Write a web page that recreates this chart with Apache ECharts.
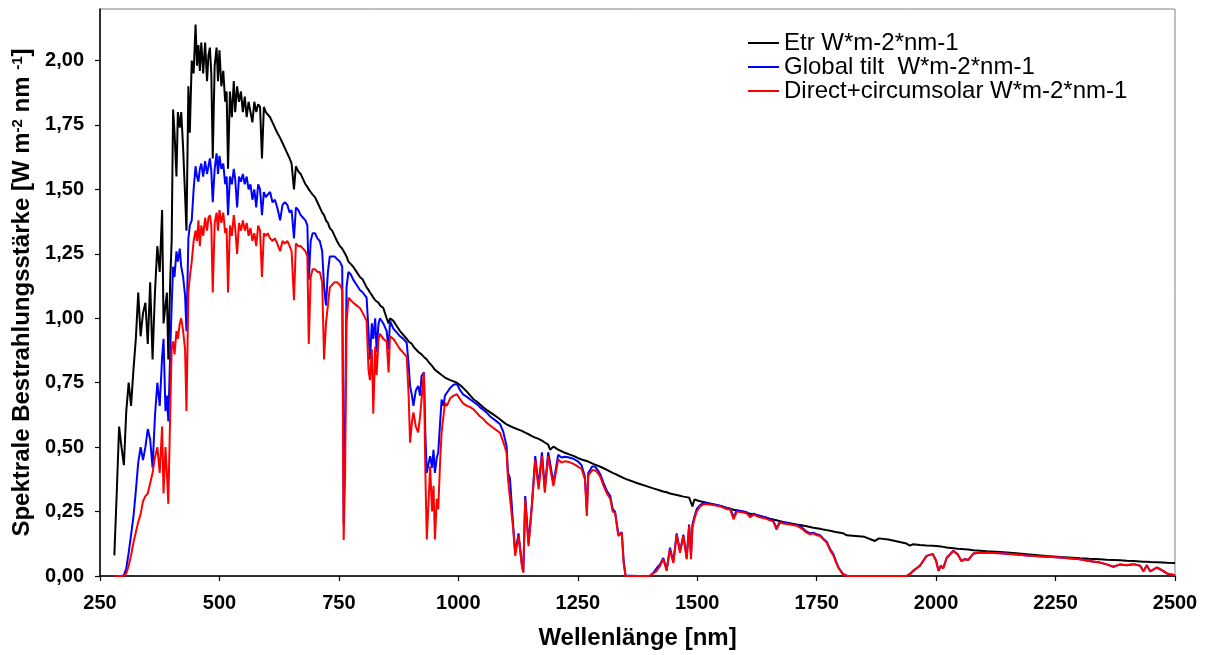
<!DOCTYPE html>
<html>
<head>
<meta charset="utf-8">
<script src="https://cdn.jsdelivr.net/npm/echarts@6/dist/echarts.min.js"></script>
<style>
html,body{margin:0;padding:0;background:#fff;}
#chart{width:1212px;height:655px;}
</style>
</head>
<body>
<div id="chart"></div>
<script>
// ---- data (wavelength nm, spectral irradiance W m-2 nm-1) ----
const wlUV   = [280,285,290,295,300,305,310,315,320,325,330,335,340,345,350,355,360,365,370,375,380,383,387,390,393,397,400];
const etrUV  = [0.08,0.32,0.58,0.50,0.43,0.64,0.75,0.66,0.80,0.92,1.10,0.93,1.02,1.06,0.90,1.14,0.84,1.10,1.28,1.18,1.42,0.98,1.05,1.10,0.84,1.15,1.30];
const globUV = [0,0,0,0,0.003,0.03,0.09,0.16,0.23,0.33,0.44,0.50,0.45,0.50,0.57,0.53,0.42,0.62,0.75,0.66,0.85,0.92,0.64,0.70,0.60,0.87,1.05];
const dirUV  = [0,0,0,0,0,0.01,0.04,0.08,0.13,0.17,0.21,0.24,0.29,0.31,0.32,0.36,0.40,0.46,0.50,0.40,0.58,0.32,0.50,0.40,0.28,0.64,0.88];

const wlVIS = [403,406,410,413,417,420,424,428,431,435,
  438,442,446,450,453,456,459,462,466,470,
  474,477,480,483,486,490,494,497,500,504,
  508,512,515,518,522,526,530,533,537,541,
  545,549,553,557,561,565,569,573,577,581,
  585,589,593,597,601,606,611,616,621,627,
  632,637,642,647,651,656,660,665,670,675,
  680,684,687,691,695,700];
const etrVIS = [1.81,1.72,1.55,1.80,1.74,1.80,1.66,1.48,1.34,1.90,
  1.72,2.00,1.95,2.14,1.98,2.06,1.96,2.07,1.95,2.07,
  1.92,2.02,2.05,1.95,1.62,1.98,2.05,1.92,2.04,1.90,
  1.96,1.84,1.88,1.58,1.88,1.78,1.92,1.80,1.90,1.84,
  1.88,1.80,1.86,1.78,1.84,1.80,1.76,1.84,1.80,1.83,
  1.82,1.62,1.82,1.80,1.80,1.78,1.76,1.74,1.72,1.70,
  1.68,1.66,1.64,1.62,1.60,1.50,1.59,1.57,1.56,1.54,
  1.52,1.51,1.50,1.49,1.48,1.47];
const globVIS = [1.20,1.16,1.26,1.22,1.27,1.20,1.16,1.09,0.95,1.31,
  1.36,1.38,1.50,1.59,1.55,1.53,1.58,1.60,1.55,1.61,
  1.56,1.59,1.62,1.57,1.45,1.58,1.64,1.56,1.63,1.58,
  1.60,1.52,1.55,1.40,1.55,1.52,1.58,1.54,1.43,1.55,
  1.53,1.56,1.52,1.55,1.50,1.52,1.46,1.50,1.43,1.52,
  1.50,1.40,1.49,1.47,1.48,1.49,1.45,1.46,1.43,1.38,
  1.44,1.45,1.44,1.41,1.42,1.31,1.43,1.42,1.40,1.39,
  1.38,1.36,1.15,1.30,1.33,1.33];
const dirVIS = [0.91,0.86,0.95,0.92,0.98,1.00,0.95,0.88,0.64,1.10,
  1.16,1.22,1.30,1.34,1.30,1.38,1.28,1.36,1.32,1.39,
  1.34,1.39,1.40,1.36,1.10,1.37,1.41,1.34,1.42,1.37,
  1.41,1.33,1.35,1.10,1.36,1.32,1.40,1.35,1.25,1.37,
  1.34,1.38,1.34,1.37,1.32,1.35,1.30,1.33,1.28,1.36,
  1.34,1.16,1.33,1.32,1.33,1.31,1.30,1.31,1.29,1.26,
  1.30,1.29,1.30,1.28,1.26,1.07,1.29,1.28,1.28,1.27,
  1.26,1.24,0.90,1.16,1.19,1.19];

const wlNIR = [705,710,715,719,723,727,731,736,741,746,
  752,757,760,763,766,770,775,780,787,794,
  800,808,812,815,819,822,826,829,833,836,
  843,850,854,857,864,871,878,885,892,896,
  899,903,906,911,916,920,923,928,931,934,
  938,941,945,948,951,955,958,962,965,969,
  972,976,983,990,997,1004,1010,1018,1025,1032,
  1040,1045,1052,1059,1066,1073,1080,1087,1094,1101];
const etrNIR = [1.45,1.43,1.41,1.40,1.38,1.37,1.35,1.34,1.32,1.30,
  1.28,1.27,1.26,1.25,1.24,1.22,1.21,1.20,1.18,1.16,
  1.15,1.12,1.11,1.10,1.09,1.08,1.07,1.07,1.06,1.05,
  1.04,1.00,0.98,1.00,0.99,0.97,0.95,0.935,0.92,0.91,
  0.905,0.90,0.89,0.88,0.87,0.865,0.86,0.85,0.845,0.84,
  0.83,0.825,0.815,0.81,0.80,0.795,0.79,0.785,0.78,0.775,
  0.77,0.765,0.76,0.755,0.75,0.74,0.73,0.715,0.70,0.685,
  0.675,0.666,0.655,0.645,0.636,0.627,0.618,0.608,0.598,0.588];
const globNIR = [1.31,1.30,1.26,1.12,1.05,1.18,1.24,1.24,1.24,1.23,
  1.22,1.20,0.20,0.60,1.12,1.18,1.17,1.15,1.13,1.11,
  1.10,1.08,0.95,0.84,0.98,0.92,1.00,0.87,0.98,1.00,
  0.98,0.95,0.88,0.99,0.96,0.945,0.93,0.92,0.905,0.82,
  0.737,0.70,0.66,0.72,0.737,0.70,0.776,0.79,0.55,0.40,
  0.44,0.465,0.42,0.49,0.40,0.46,0.48,0.60,0.685,0.66,
  0.70,0.711,0.73,0.742,0.745,0.72,0.705,0.695,0.685,0.675,
  0.665,0.655,0.645,0.635,0.62,0.61,0.60,0.59,0.56,0.504];
const dirNIR = [1.18,1.18,1.14,0.84,0.98,1.05,1.12,1.13,1.14,1.14,
  1.13,1.11,0.14,0.40,0.98,1.08,1.07,1.06,1.05,1.04,
  1.02,0.99,0.80,0.76,0.88,0.63,0.89,0.78,0.92,0.94,
  0.92,0.91,0.79,0.93,0.92,0.90,0.88,0.866,0.85,0.70,
  0.517,0.60,0.635,0.58,0.557,0.62,0.685,0.79,0.40,0.142,
  0.30,0.426,0.25,0.35,0.142,0.30,0.259,0.45,0.557,0.55,
  0.672,0.66,0.69,0.70,0.705,0.685,0.67,0.66,0.655,0.646,
  0.63,0.62,0.61,0.595,0.585,0.575,0.565,0.556,0.52,0.478];

const wlIR = [1104,1108,1115,1119,1126,1133,1136,1140,1147,1154,
  1161,1168,1175,1181,1188,1192,1199,1209,1216,1223,
  1232,1241,1250,1258,1265,1269,1272,1280,1286,1292,
  1297,1304,1311,1318,1323,1328,1335,1342,1346,1350,
  1375,1400,1408,1415,1422,1429,1436,1443,1450,1457,
  1464,1471,1478,1483,1487,1490,1494,1499];
const etrIR = [0.585,0.582,0.576,0.573,0.568,0.563,0.56,0.556,0.55,0.543,
  0.537,0.532,0.525,0.518,0.51,0.49,0.502,0.49,0.484,0.478,
  0.472,0.466,0.458,0.452,0.448,0.446,0.444,0.437,0.432,0.428,
  0.424,0.418,0.412,0.405,0.40,0.396,0.39,0.384,0.38,0.377,
  0.36,0.345,0.34,0.336,0.332,0.328,0.325,0.32,0.317,0.314,
  0.311,0.308,0.306,0.304,0.30,0.27,0.297,0.294];
const globIR = [0.40,0.38,0.19,0.09,0.165,0.045,0.015,0.31,0.125,0.28,
  0.465,0.35,0.48,0.34,0.48,0.44,0.36,0.47,0.46,0.463,
  0.46,0.455,0.445,0.43,0.385,0.25,0.40,0.425,0.425,0.41,
  0.395,0.36,0.33,0.31,0.26,0.25,0.16,0.17,0.06,0.002,
  0,0,0.012,0.03,0.045,0.07,0.025,0.11,0.055,0.165,
  0.095,0.16,0.07,0.20,0.08,0.20,0.23,0.26];
const dirIR = [0.375,0.37,0.18,0.078,0.155,0.039,0.013,0.297,0.116,0.27,
  0.45,0.336,0.465,0.323,0.465,0.42,0.349,0.452,0.44,0.445,
  0.442,0.435,0.425,0.415,0.375,0.233,0.39,0.41,0.41,0.40,
  0.385,0.35,0.32,0.30,0.25,0.246,0.155,0.168,0.05,0,
  0,0,0.01,0.02,0.039,0.065,0.02,0.103,0.05,0.16,
  0.09,0.155,0.065,0.194,0.065,0.188,0.22,0.25];

const wlSW = [1506,1513,1520,1534,1548,1562,1569,1576,1583,1597,
  1604,1611,1618,1631,1645,1652,1659,1666,1673,1680,
  1694,1708,1718,1729,1736,1743,1750,1757,1764,1771,
  1778,1785,1790,1796,1805,1813,1850,1872,1880,1900,
  1938,1945,1952,1966,1980,1993,2000,2005,2010,2015,
  2022,2036,2045,2053,2060,2067,2078,2092,2106,2134,
  2162,2190,2231,2260,2301,2320,2343,2357,2371,2385,
  2399,2413,2427,2434,2441,2448,2462,2475,2483,2500];
const etrSW = [0.29,0.287,0.284,0.278,0.272,0.264,0.26,0.257,0.254,0.248,
  0.245,0.242,0.239,0.233,0.226,0.222,0.219,0.216,0.213,0.21,
  0.205,0.20,0.197,0.193,0.19,0.187,0.185,0.183,0.18,0.178,
  0.176,0.173,0.171,0.169,0.166,0.158,0.152,0.136,0.146,0.142,
  0.126,0.118,0.123,0.12,0.118,0.117,0.116,0.115,0.114,0.113,
  0.111,0.108,0.106,0.105,0.104,0.103,0.10,0.098,0.096,0.093,
  0.089,0.084,0.078,0.074,0.069,0.067,0.065,0.063,0.062,0.061,
  0.059,0.058,0.056,0.055,0.055,0.054,0.053,0.052,0.051,0.05];
const globSW = [0.275,0.283,0.282,0.278,0.273,0.264,0.262,0.228,0.255,0.25,
  0.247,0.232,0.242,0.233,0.226,0.22,0.216,0.185,0.212,0.208,
  0.203,0.198,0.19,0.172,0.166,0.168,0.162,0.158,0.145,0.133,
  0.105,0.085,0.06,0.032,0.008,0.001,0,0,0,0,
  0,0.008,0.02,0.04,0.078,0.086,0.06,0.02,0.04,0.03,
  0.07,0.098,0.085,0.058,0.066,0.062,0.087,0.09,0.09,0.088,
  0.084,0.08,0.075,0.072,0.065,0.058,0.052,0.045,0.036,0.045,
  0.042,0.046,0.04,0.018,0.042,0.018,0.033,0.02,0.01,0.003];
const dirSW = [0.27,0.278,0.278,0.275,0.27,0.26,0.258,0.22,0.25,0.246,
  0.242,0.228,0.238,0.228,0.222,0.216,0.212,0.18,0.208,0.204,
  0.2,0.195,0.185,0.168,0.162,0.165,0.158,0.155,0.142,0.13,
  0.10,0.08,0.055,0.03,0.006,0,0,0,0,0,
  0,0.006,0.02,0.039,0.078,0.084,0.058,0.02,0.038,0.03,
  0.07,0.097,0.083,0.058,0.065,0.062,0.087,0.09,0.09,0.088,
  0.084,0.08,0.075,0.072,0.065,0.058,0.052,0.045,0.036,0.045,
  0.042,0.046,0.04,0.018,0.042,0.018,0.033,0.02,0.01,0.003];

const seriesNames = ['Etr W*m-2*nm-1', 'Global tilt  W*m-2*nm-1', 'Direct+circumsolar W*m-2*nm-1'];
const seriesColors = ['#000000', '#0000ff', '#ff0000'];
const yTicks = [0, 0.25, 0.5, 0.75, 1.0, 1.25, 1.5, 1.75, 2.0];

// ---- build ----
const wl = [].concat(wlUV, wlVIS, wlNIR, wlIR, wlSW);
const etr = [].concat(etrUV, etrVIS, etrNIR, etrIR, etrSW);
const glob = [].concat(globUV, globVIS, globNIR, globIR, globSW);
const dir = [].concat(dirUV, dirVIS, dirNIR, dirIR, dirSW);
function pairs(vals) { return wl.map((w, i) => [w, vals[i]]); }

const FONT = "'Liberation Sans', Arial, sans-serif";
const chart = echarts.init(document.getElementById('chart'), null, {renderer: 'canvas'});
chart.setOption({
  animation: false,
  backgroundColor: '#ffffff',
  color: seriesColors,
  textStyle: {fontFamily: FONT},
  grid: {left: 100, right: 37, top: 9, bottom: 78, show: true, borderColor: '#808080', borderWidth: 1, backgroundColor: 'transparent'},
  legend: {
    orient: 'vertical', left: 748, top: 31, padding: 0,
    itemWidth: 31, itemHeight: 2, itemGap: 0, icon: 'rect', selectedMode: false,
    textStyle: {fontSize: 24, lineHeight: 22, color: '#000', fontFamily: FONT},
    data: seriesNames
  },
  xAxis: {
    type: 'value', min: 250, max: 2500, interval: 250,
    axisLine: {show: true, onZero: false, lineStyle: {color: '#000', width: 1.5}},
    axisTick: {show: true, inside: false, length: 5, lineStyle: {color: '#000', width: 1.2}},
    axisLabel: {fontSize: 20, fontWeight: 'bold', color: '#000', margin: 17, fontFamily: FONT,
      formatter: v => String(Math.round(v))},
    splitLine: {show: false},
    name: 'Wellenlänge [nm]', nameLocation: 'middle', nameGap: 50,
    nameTextStyle: {fontSize: 24, fontWeight: 'bold', color: '#000', fontFamily: FONT}
  },
  yAxis: {
    type: 'value', min: 0, max: 2.2, interval: 0.25,
    axisLine: {show: true, onZero: false, lineStyle: {color: '#000', width: 1.5}},
    axisTick: {show: true, inside: false, length: 5, customValues: yTicks, lineStyle: {color: '#000', width: 1.2}},
    axisLabel: {fontSize: 20, fontWeight: 'bold', color: '#000', margin: 16, fontFamily: FONT, customValues: yTicks,
      formatter: v => (v > 2.05 ? '' : v.toFixed(2).replace('.', ','))},
    splitLine: {show: false},
    name: 'Spektrale Bestrahlungsstärke [W m{sup|-2} nm {sup|-1}]', nameLocation: 'middle', nameGap: 60,
    nameTextStyle: {fontSize: 24, fontWeight: 'bold', color: '#000', fontFamily: FONT,
      rich: {sup: {fontSize: 15, fontWeight: 'bold', color: '#000', fontFamily: FONT, verticalAlign: 'top'}}}
  },
  series: [
    {name: seriesNames[0], type: 'line', data: pairs(etr), showSymbol: false, symbol: 'none', z: 2,
      lineStyle: {color: seriesColors[0], width: 2}, itemStyle: {color: seriesColors[0]}},
    {name: seriesNames[1], type: 'line', data: pairs(glob), showSymbol: false, symbol: 'none', z: 3,
      lineStyle: {color: seriesColors[1], width: 2}, itemStyle: {color: seriesColors[1]}},
    {name: seriesNames[2], type: 'line', data: pairs(dir), showSymbol: false, symbol: 'none', z: 4,
      lineStyle: {color: seriesColors[2], width: 2}, itemStyle: {color: seriesColors[2]}}
  ]
});
</script>
</body>
</html>
